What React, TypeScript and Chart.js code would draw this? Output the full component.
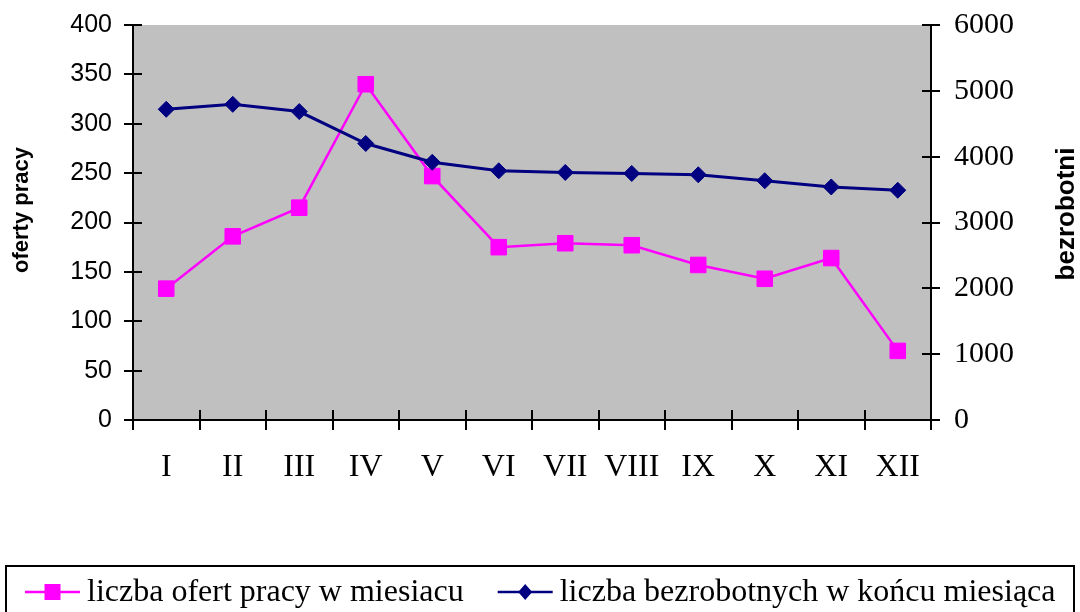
import React, { useEffect, useRef } from "react";
import { Chart, registerables } from "chart.js";

Chart.register(...registerables);

// ---- data ----
const months = ["I", "II", "III", "IV", "V", "VI", "VII", "VIII", "IX", "X", "XI", "XII"];
const jobOffers = [133, 186, 215, 340, 247, 175, 179, 177, 157, 143, 164, 70];
const unemployed = [4720, 4795, 4685, 4200, 3915, 3785, 3760, 3745, 3725, 3635, 3540, 3490];
const leftAxisMax = 400;
const leftAxisStep = 50;
const rightAxisMax = 6000;
const rightAxisStep = 1000;
const offersLabel = "liczba ofert pracy w miesiacu";
const unemployedLabel = "liczba bezrobotnych w końcu miesiąca";
const leftTitle = "oferty pracy";
const rightTitle = "bezrobotni";

const PINK = "#FF00FF";
const NAVY = "#000080";
const PLOT_BG = "#C0C0C0";
const SERIF = "'Liberation Serif', 'Times New Roman', serif";
const SANS = "'Liberation Sans', Arial, sans-serif";

const decorPlugin = {
  id: "decor",
  beforeDraw(chart: any) {
    const { ctx, chartArea } = chart;
    ctx.save();
    ctx.fillStyle = PLOT_BG;
    ctx.fillRect(chartArea.left, chartArea.top, chartArea.right - chartArea.left, chartArea.bottom - chartArea.top);
    ctx.restore();
  },
  beforeDatasetsDraw(chart: any) {
    const { ctx, chartArea, scales } = chart;
    ctx.save();
    ctx.strokeStyle = "#000";
    ctx.lineWidth = 2;
    ctx.beginPath();
    // inward parts of the crossing ticks
    scales.y.ticks.forEach((t: any) => {
      const py = Math.round(scales.y.getPixelForValue(t.value));
      ctx.moveTo(chartArea.left, py);
      ctx.lineTo(chartArea.left + 9, py);
    });
    scales.y1.ticks.forEach((t: any) => {
      const py = Math.round(scales.y1.getPixelForValue(t.value));
      ctx.moveTo(chartArea.right, py);
      ctx.lineTo(chartArea.right - 9, py);
    });
    for (let i = 0; i <= months.length; i++) {
      const px = Math.round(scales.x.getPixelForValue(i - 0.5));
      ctx.moveTo(px, chartArea.bottom);
      ctx.lineTo(px, chartArea.bottom - 10);
    }
    ctx.stroke();
    ctx.restore();
  },
  afterDraw(chart: any) {
    const { ctx } = chart;
    ctx.save();
    ctx.fillStyle = "#000";
    ctx.textAlign = "center";
    ctx.textBaseline = "middle";
    ctx.save();
    ctx.font = `bold 22px ${SANS}`;
    ctx.translate(22, 210);
    ctx.rotate(-Math.PI / 2);
    ctx.fillText(leftTitle, 0, 0);
    ctx.restore();
    ctx.save();
    ctx.font = `bold 26px ${SANS}`;
    ctx.translate(1067, 214);
    ctx.rotate(-Math.PI / 2);
    ctx.fillText(rightTitle, 0, 0);
    ctx.restore();

    // legend
    ctx.strokeStyle = "#000";
    ctx.lineWidth = 2;
    ctx.strokeRect(6, 566, 1068, 100);
    const items = [
      { text: offersLabel, color: PINK, marker: "square" },
      { text: unemployedLabel, color: NAVY, marker: "diamond" },
    ];
    const cy = 592;
    let x = 25;
    ctx.font = `32px ${SERIF}`;
    ctx.textAlign = "left";
    items.forEach((it) => {
      ctx.strokeStyle = it.color;
      ctx.fillStyle = it.color;
      ctx.lineWidth = 2.5;
      ctx.beginPath();
      ctx.moveTo(x, cy);
      ctx.lineTo(x + 55, cy);
      ctx.stroke();
      const mx = x + 27.5;
      ctx.beginPath();
      if (it.marker === "square") {
        ctx.rect(mx - 8, cy - 8, 16, 16);
      } else {
        ctx.moveTo(mx - 7, cy);
        ctx.lineTo(mx, cy - 8);
        ctx.lineTo(mx + 7, cy);
        ctx.lineTo(mx, cy + 8);
        ctx.closePath();
      }
      ctx.fill();
      const tx = x + 62;
      ctx.fillStyle = "#000";
      ctx.fillText(it.text, tx, cy + 1);
      x = tx + ctx.measureText(it.text).width + 34;
    });
    ctx.restore();
  },
};

const noVerticalPadding = (s: any) => {
  s.paddingTop = 0;
  s.paddingBottom = 0;
};

export default function App() {
  const ref = useRef<HTMLCanvasElement | null>(null);

  useEffect(() => {
    if (!ref.current) return;
    const chart = new Chart(ref.current, {
      type: "line",
      data: {
        labels: months,
        datasets: [
          {
            label: offersLabel,
            data: jobOffers,
            yAxisID: "y",
            borderColor: PINK,
            backgroundColor: PINK,
            borderWidth: 2.5,
            pointStyle: "rect",
            pointRadius: 11,
            pointBorderWidth: 1,
            pointBackgroundColor: PINK,
            pointBorderColor: PINK,
            tension: 0,
            order: 1,
          },
          {
            label: unemployedLabel,
            data: unemployed,
            yAxisID: "y1",
            borderColor: NAVY,
            backgroundColor: NAVY,
            borderWidth: 3,
            pointStyle: "rectRot",
            pointRadius: 8,
            pointBorderWidth: 1,
            pointBackgroundColor: NAVY,
            pointBorderColor: NAVY,
            tension: 0,
            order: 0,
          },
        ],
      },
      options: {
        responsive: false,
        animation: false,
        layout: { padding: { top: 25, left: 0, right: 0, bottom: 77 } },
        plugins: {
          tooltip: { enabled: false },
          legend: { display: false },
        },
        scales: {
          x: {
            offset: true,
            grid: { offset: true, drawOnChartArea: false, drawTicks: true, tickLength: 10, color: "#000", lineWidth: 2 },
            border: { display: true, color: "#000", width: 2 },
            ticks: {
              color: "#000",
              padding: 18,
              maxRotation: 0,
              font: { family: SERIF, size: 32 },
            },
            afterFit: (s: any) => {
              s.height = 115;
            },
          },
          y: {
            position: "left",
            min: 0,
            max: leftAxisMax,
            ticks: {
              stepSize: leftAxisStep,
              color: "#000",
              padding: 12,
              font: { family: SANS, size: 25 },
            },
            grid: { drawOnChartArea: false, drawTicks: true, tickLength: 9, color: "#000", lineWidth: 2 },
            border: { display: true, color: "#000", width: 2 },
            afterFit: (s: any) => {
              s.width = 133;
              noVerticalPadding(s);
            },
          },
          y1: {
            position: "right",
            min: 0,
            max: rightAxisMax,
            ticks: {
              stepSize: rightAxisStep,
              color: "#000",
              padding: 14,
              font: { family: SERIF, size: 30 },
              callback: (v: any) => String(v),
            },
            grid: { drawOnChartArea: false, drawTicks: true, tickLength: 9, color: "#000", lineWidth: 2 },
            border: { display: true, color: "#000", width: 2 },
            afterFit: (s: any) => {
              s.width = 149;
              noVerticalPadding(s);
            },
          },
        },
      },
      plugins: [decorPlugin],
    });
    return () => chart.destroy();
  }, []);

  return (
    <div
      style={{
        position: "fixed",
        left: 0,
        top: 0,
        width: 1080,
        height: 612,
        overflow: "hidden",
        background: "#fff",
      }}
    >
      <canvas ref={ref} width={1080} height={612} style={{ display: "block" }} />
    </div>
  );
}
